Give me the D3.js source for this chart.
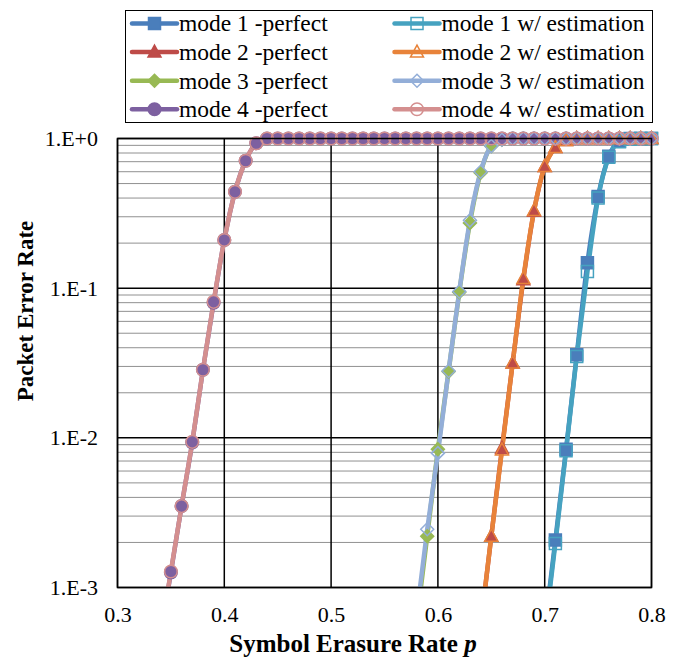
<!DOCTYPE html>
<html>
<head>
<meta charset="utf-8">
<script src="https://cdn.jsdelivr.net/npm/d3@7"></script>
<style>
  body { margin: 0; background: #fff; }
  svg, svg text { font-family: "Liberation Serif", "Times New Roman", Times, serif; fill: #000; }
</style>
</head>
<body>
<div id="chart"></div>
<script>
// symbol erasure rate p for each mode
const pMode1 = [0.70, 0.71, 0.72, 0.73, 0.74, 0.75, 0.76, 0.77, 0.78, 0.79, 0.80];
const pMode2 = [0.64, 0.65, 0.66, 0.67, 0.68, 0.69, 0.70, 0.71, 0.72, 0.73, 0.74, 0.75, 0.76, 0.77, 0.78, 0.79, 0.80];
const pMode3 = [0.58, 0.59, 0.60, 0.61, 0.62, 0.63, 0.64, 0.65, 0.66, 0.67, 0.68, 0.69, 0.70, 0.71, 0.72, 0.73, 0.74, 0.75, 0.76, 0.77, 0.78, 0.79, 0.80];
const pMode4 = [0.34, 0.35, 0.36, 0.37, 0.38, 0.39, 0.40, 0.41, 0.42, 0.43, 0.44, 0.45, 0.46, 0.47, 0.48, 0.49,
  0.50, 0.51, 0.52, 0.53, 0.54, 0.55, 0.56, 0.57, 0.58, 0.59, 0.60, 0.61, 0.62, 0.63, 0.64, 0.65,
  0.66, 0.67, 0.68, 0.69, 0.70, 0.71, 0.72, 0.73, 0.74, 0.75, 0.76, 0.77, 0.78, 0.79, 0.80];

// packet error rate, perfect knowledge
const perMode1 = [5.3e-4, 2.08e-3, 8.4e-3, 0.0359, 0.148, 0.41, 0.76, 0.96, 1, 1, 1];
const perMode2 = [5.5e-4, 2.2e-3, 8.5e-3, 0.0316, 0.114, 0.327, 0.65, 0.87, 0.97, 1, 1, 1, 1, 1, 1, 1, 1];
const perMode3 = [5.8e-4, 2.2e-3, 8.4e-3, 0.0277, 0.094, 0.273, 0.59, 0.89, 0.98, 1, 1, 1, 1, 1, 1, 1, 1, 1, 1, 1, 1, 1, 1];
const perMode4 = [4.6e-4, 1.26e-3, 3.5e-3, 9.3e-3, 0.0285, 0.080, 0.21, 0.44, 0.71, 0.93,
  1, 1, 1, 1, 1, 1, 1, 1, 1, 1, 1, 1, 1, 1, 1, 1, 1, 1, 1, 1, 1, 1, 1, 1, 1, 1, 1, 1, 1, 1, 1, 1, 1, 1, 1, 1, 1];

// packet error rate, with estimation
const estMode1 = [5.0e-4, 1.97e-3, 8.2e-3, 0.035, 0.129, 0.40, 0.75, 0.95, 0.99, 1, 1];
const estMode2 = [5.6e-4, 2.2e-3, 8.3e-3, 0.0316, 0.116, 0.33, 0.65, 0.87, 0.97, 1, 1, 1, 1, 1, 1, 1, 1];
const estMode3 = [6.5e-4, 2.45e-3, 7.9e-3, 0.028, 0.095, 0.284, 0.60, 0.89, 0.98, 1, 1, 1, 1, 1, 1, 1, 1, 1, 1, 1, 1, 1, 1];
const estMode4 = [4.7e-4, 1.28e-3, 3.5e-3, 9.4e-3, 0.0285, 0.081, 0.21, 0.44, 0.71, 0.93,
  1, 1, 1, 1, 1, 1, 1, 1, 1, 1, 1, 1, 1, 1, 1, 1, 1, 1, 1, 1, 1, 1, 1, 1, 1, 1, 1, 1, 1, 1, 1, 1, 1, 1, 1, 1, 1];

const xTicks = [0.3, 0.4, 0.5, 0.6, 0.7, 0.8];
const yTicks = [1, 0.1, 0.01, 0.001];
const yTickLabels = ["1.E+0", "1.E-1", "1.E-2", "1.E-3"];

const series = [
  { name: "mode 1 -perfect", p: pMode1, v: perMode1, color: "#4A7EBB", shape: "square", filled: true },
  { name: "mode 2 -perfect", p: pMode2, v: perMode2, color: "#BE4B48", shape: "triangle", filled: true },
  { name: "mode 3 -perfect", p: pMode3, v: perMode3, color: "#98B954", shape: "diamond", filled: true },
  { name: "mode 4 -perfect", p: pMode4, v: perMode4, color: "#7D60A0", shape: "circle", filled: true },
  { name: "mode 1 w/ estimation", p: pMode1, v: estMode1, color: "#46A2C0", shape: "square", filled: false },
  { name: "mode 2 w/ estimation", p: pMode2, v: estMode2, color: "#E8833A", shape: "triangle", filled: false },
  { name: "mode 3 w/ estimation", p: pMode3, v: estMode3, color: "#93AED8", shape: "diamond", filled: false },
  { name: "mode 4 w/ estimation", p: pMode4, v: estMode4, color: "#D48F8F", shape: "circle", filled: false }
];

const width = 679, height = 659;
const plot = { left: 117.5, right: 651.5, top: 138.5, bottom: 587.5 };

const x = d3.scaleLinear().domain([0.3, 0.8]).range([plot.left, plot.right]);
const y = d3.scaleLog().domain([0.001, 1]).range([plot.bottom, plot.top]);

function markerPath(shape) {
  switch (shape) {
    case "square": return "M-6,-6H6V6H-6Z";
    case "triangle": return "M0,-7L6.5,5L-6.5,5Z";
    case "diamond": return "M0,-6.5L6.5,0L0,6.5L-6.5,0Z";
    default: return d3.symbol(d3.symbolCircle, 125)();
  }
}

const svg = d3.select("#chart").append("svg")
  .attr("width", width)
  .attr("height", height);

const defs = svg.append("defs");
defs.append("clipPath").attr("id", "clip-lines")
  .append("rect")
  .attr("x", plot.left).attr("y", plot.top - 10)
  .attr("width", plot.right - plot.left).attr("height", plot.bottom - plot.top + 10);
defs.append("clipPath").attr("id", "clip-marks")
  .append("rect")
  .attr("x", plot.left - 10).attr("y", plot.top - 20)
  .attr("width", plot.right - plot.left + 20).attr("height", plot.bottom - plot.top + 20);

// minor gridlines (2..9 of each decade)
const minor = [];
[0.001, 0.01, 0.1].forEach(d => {
  for (let k = 2; k <= 9; k++) minor.push(d * k);
});
svg.append("g").selectAll("line")
  .data(minor)
  .enter()
  .append("line")
  .attr("x1", plot.left).attr("x2", plot.right)
  .attr("y1", d => y(d)).attr("y2", d => y(d))
  .attr("stroke", "#222")
  .attr("stroke-width", 1)
  .attr("stroke-dasharray", "1,1");

// major gridlines
svg.append("g").selectAll("line")
  .data(yTicks)
  .enter()
  .append("line")
  .attr("x1", plot.left).attr("x2", plot.right)
  .attr("y1", d => y(d)).attr("y2", d => y(d))
  .attr("stroke", "#000")
  .attr("stroke-width", 1.5);
svg.append("g").selectAll("line")
  .data(xTicks)
  .enter()
  .append("line")
  .attr("x1", d => x(d)).attr("x2", d => x(d))
  .attr("y1", plot.top).attr("y2", plot.bottom)
  .attr("stroke", "#000")
  .attr("stroke-width", 1.5);

// axes (labels only)
const xAxis = svg.append("g")
  .attr("transform", `translate(0,${plot.bottom})`)
  .call(d3.axisBottom(x).tickValues(xTicks).tickFormat(d3.format(".1f")).tickSize(0).tickPadding(19));
const yAxis = svg.append("g")
  .attr("transform", `translate(${plot.left},0)`)
  .call(d3.axisLeft(y).tickValues(yTicks).tickFormat((d, i) => yTickLabels[i]).tickSize(0).tickPadding(19.5));
[xAxis, yAxis].forEach(a => {
  a.attr("font-family", null);
  a.select(".domain").remove();
  a.selectAll("text")
    .attr("font-size", "22px")
    .attr("fill", "#000");
});

// data lines
const line = d3.line()
  .x(d => x(d[0]))
  .y(d => y(d[1]))
  .curve(d3.curveMonotoneX);

const lineGroup = svg.append("g").attr("clip-path", "url(#clip-lines)");
series.forEach(s => {
  lineGroup.append("path")
    .datum(s.p.map((p, i) => [p, s.v[i]]))
    .attr("fill", "none")
    .attr("stroke", s.color)
    .attr("stroke-width", 4.5)
    .attr("stroke-linejoin", "round")
    .attr("d", line);
});

// markers
const markGroup = svg.append("g").attr("clip-path", "url(#clip-marks)");
series.forEach(s => {
  markGroup.append("g").selectAll("path")
    .data(s.p.map((p, i) => [p, s.v[i]]).filter(d => d[1] >= 0.001))
    .enter()
    .append("path")
    .attr("d", markerPath(s.shape))
    .attr("transform", d => `translate(${x(d[0])},${y(d[1])})`)
    .attr("fill", s.filled ? s.color : "none")
    .attr("stroke", s.color)
    .attr("stroke-width", 1.5);
});

// axis titles
svg.append("text")
  .attr("x", 353)
  .attr("y", 652)
  .attr("text-anchor", "middle")
  .attr("font-size", "25px")
  .attr("font-weight", "bold")
  .text("Symbol Erasure Rate ")
  .append("tspan")
  .attr("font-style", "italic")
  .text("p");

svg.append("text")
  .attr("transform", "translate(33,311) rotate(-90)")
  .attr("text-anchor", "middle")
  .attr("font-size", "23px")
  .attr("font-weight", "bold")
  .text("Packet Error Rate");

// legend
const legend = svg.append("g");
legend.append("rect")
  .attr("x", 125.5).attr("y", 10.5)
  .attr("width", 527).attr("height", 112)
  .attr("fill", "#fff")
  .attr("stroke", "#000")
  .attr("stroke-width", 1);

series.forEach((s, i) => {
  const col = Math.floor(i / 4), row = i % 4;
  const x0 = col === 0 ? 132 : 394.5;
  const cy = 23.5 + row * 28.6;
  const item = legend.append("g");
  item.append("line")
    .attr("x1", x0).attr("x2", x0 + 45)
    .attr("y1", cy).attr("y2", cy)
    .attr("stroke", s.color)
    .attr("stroke-width", 4.5)
    .attr("stroke-linecap", "round");
  item.append("path")
    .attr("d", markerPath(s.shape))
    .attr("transform", `translate(${x0 + 22.5},${cy})`)
    .attr("fill", s.filled ? s.color : "none")
    .attr("stroke", s.color)
    .attr("stroke-width", 1.5);
  item.append("text")
    .attr("x", x0 + 47)
    .attr("y", cy)
    .attr("dy", "0.34em")
    .attr("font-size", "23.5px")
    .text(s.name);
});

// plot area border
svg.append("rect")
  .attr("x", plot.left).attr("y", plot.top)
  .attr("width", plot.right - plot.left).attr("height", plot.bottom - plot.top)
  .attr("fill", "none")
  .attr("stroke", "#000")
  .attr("stroke-width", 1.5);
</script>
</body>
</html>
